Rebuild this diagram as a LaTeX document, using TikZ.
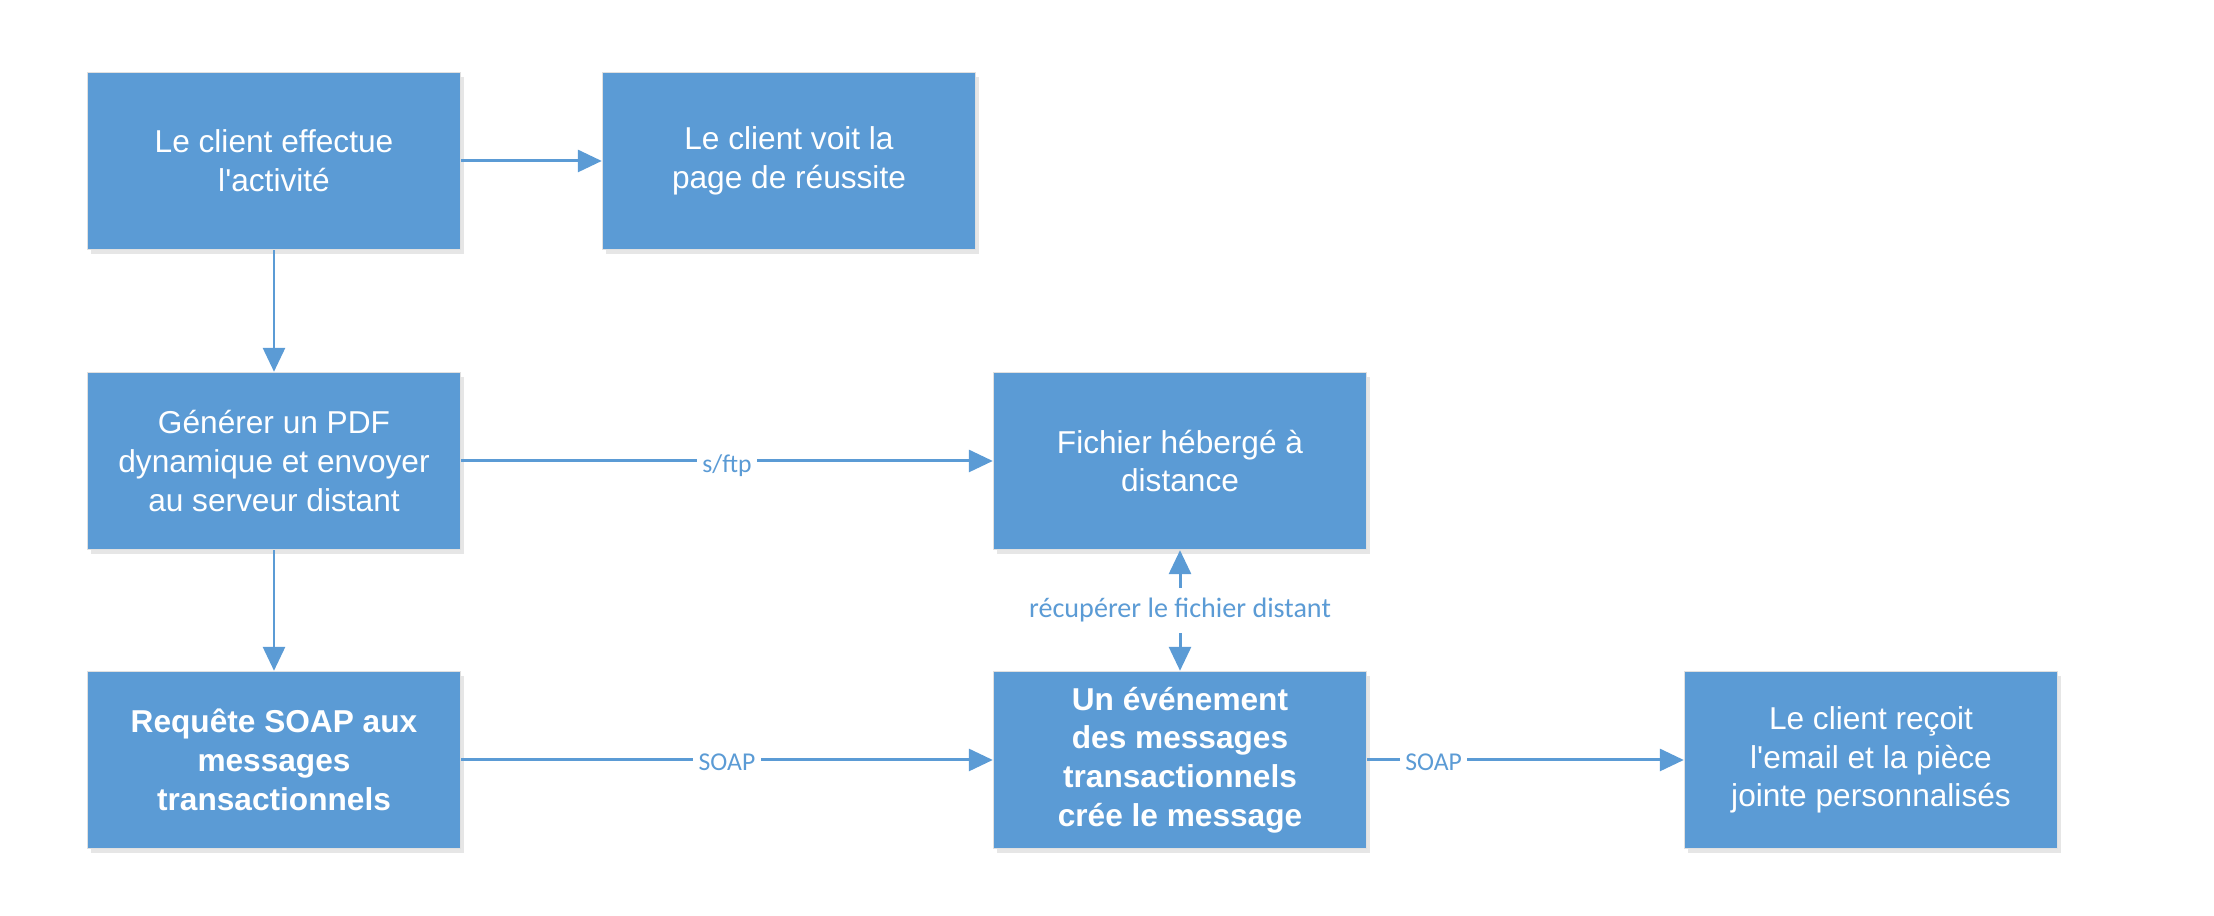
\documentclass[tikz,border=0pt]{standalone}
\usepackage{fontspec}
\newfontfamily\boxfont{Liberation Sans}
\newfontfamily\lblfont{Carlito}
\usetikzlibrary{arrows.meta}
\usetikzlibrary{shadows}
\definecolor{bleu}{HTML}{5B9BD5}

\begin{document}
\begin{tikzpicture}[
    boite/.style={fill=bleu, draw=black!12, line width=0.4pt, minimum width=3.73cm, minimum height=1.77cm,
        align=center, text=white, font=\boxfont\fontsize{9}{11}\selectfont,
        drop shadow={shadow xshift=0.03cm, shadow yshift=-0.05cm, opacity=0.2}},
    boitegras/.style={boite, font=\boxfont\bfseries\fontsize{9}{11}\selectfont},
    fleche/.style={draw=bleu, line width=0.85pt, -{Triangle[length=0.24cm,width=0.22cm]}},
    fleches/.style={fleche, {Triangle[length=0.24cm,width=0.22cm]}-{Triangle[length=0.24cm,width=0.22cm]}},
    etiq/.style={fill=white, text=bleu, font=\lblfont\fontsize{7.3}{8}\selectfont, inner sep=1.5pt}]
                \useasboundingbox (0,0) rectangle (22.14,9.16);

                \node[boite] (activite) at(2.74,7.55){Le client effectue\\l'activité};
                \node[boite] (reussite) at(7.89,7.55){Le client voit la\\page de réussite};
                \node[boite] (pdf) at(2.74,4.55){Générer un PDF\\dynamique et envoyer\\au serveur distant};
                \node[boite] (fichier) at(11.80,4.55){Fichier hébergé à\\distance};
                \node[boitegras] (requete) at(2.74,1.56){Requête SOAP aux\\messages\\transactionnels};
                \node[boitegras] (evenement) at(11.80,1.56){Un événement\\des messages\\transactionnels\\crée le message};
                \node[boite] (recoit) at(18.71,1.56){Le client reçoit\\l'email et la pièce\\jointe personnalisés};

                \draw[fleche] (activite)--(reussite);
                \draw[fleche] (activite)--(pdf);
                \draw[fleche] (pdf)--(requete);
                \draw[fleche] (pdf)--node[etiq, yshift=-0.05cm]{s/ftp} (fichier);
                \draw[fleche] (requete)--node[etiq, yshift=-0.02cm]{SOAP} (evenement);
                \draw[fleche] (evenement)--node[etiq, pos=0.21, yshift=-0.02cm]{SOAP} (recoit);
                \draw[fleches] (fichier)--node[etiq, inner sep=3pt, font=\lblfont\fontsize{8}{9}\selectfont]{récupérer le fichier distant} (evenement);
            \end{tikzpicture}
\end{document}
